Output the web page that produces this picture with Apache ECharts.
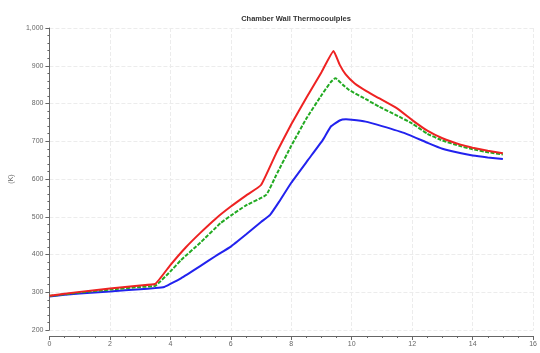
<!DOCTYPE html>
<html>
<head>
<meta charset="utf-8">
<script src="https://cdn.jsdelivr.net/npm/echarts@6/dist/echarts.min.js"></script>
<style>html,body{margin:0;padding:0;background:#fff}#c{width:540px;height:353px}</style>
</head>
<body>
<div id="c"></div>
<script>
const chartTitle = "Chamber Wall Thermocoulples";
const yAxisName = "(K)";
const redX   = [0, 1, 2, 3, 3.5, 4, 4.5, 5, 5.5, 6, 6.5, 7, 7.5, 8, 8.5, 9, 9.4, 9.6, 9.8, 10.1, 10.5, 10.9, 11.5, 12, 12.5, 13, 13.6, 14, 14.5, 15];
const redY   = [291, 301, 310, 318, 322, 372, 418, 458, 495, 527, 556, 584, 668, 745, 815, 883, 939, 903, 877, 853, 832, 814, 787, 756, 728, 708, 691, 683, 675, 668];
const greenX = [0, 1, 2, 3, 3.5, 4, 4.35, 5, 5.66, 6, 6.5, 7.17, 7.5, 8, 8.5, 9, 9.3, 9.46, 9.7, 9.91, 10.5, 10.9, 11.5, 12, 12.5, 13, 13.6, 14, 14.5, 15];
const greenY = [290, 299, 307, 314, 317, 355, 385, 432, 483, 503, 530, 558, 610, 688, 760, 822, 856, 867, 850, 836, 810, 792, 768, 747, 720, 702, 687, 679, 671, 665];
const blueX  = [0, 1, 2, 3, 3.5, 3.8, 4, 4.35, 5, 5.5, 6, 6.5, 7, 7.3, 7.6, 8, 8.55, 9.04, 9.31, 9.6, 9.81, 10, 10.46, 11, 11.77, 12.53, 13, 13.62, 14, 14.5, 15];
const blueY  = [289, 297, 302, 308, 311, 314, 322, 337, 370, 396, 421, 453, 486, 505, 540, 590, 650, 703, 739, 755, 758, 757, 752, 740, 721, 695, 680, 668, 662, 657, 653];

function pairs(xs, ys) { return xs.map((x, i) => [x, ys[i]]); }

const chart = echarts.init(document.getElementById('c'));
const axisCol = '#666';
const labelCol = '#666';
chart.setOption({
  animation: false,
  backgroundColor: '#fff',
  title: {
    text: chartTitle, left: 291, top: 10, textAlign: 'center',
    textStyle: { fontSize: 7.5, fontWeight: 'bold', color: '#333', fontFamily: 'Liberation Sans' }
  },
  grid: { left: 46, right: 4, top: 28, bottom: 23 },
  xAxis: {
    type: 'value', min: 0, max: 16, interval: 2, offset: 6,
    axisLine: { show: true, lineStyle: { color: axisCol, width: 1 } },
    axisTick: { show: true, length: 4, lineStyle: { color: axisCol } },
    minorTick: { show: true, splitNumber: 4, length: 2, lineStyle: { color: axisCol } },
    axisLabel: { fontSize: 7, color: labelCol, margin: 5, fontFamily: 'Liberation Sans' },
    splitLine: { show: true, lineStyle: { color: '#ececec', type: 'dashed', width: 1 } }
  },
  yAxis: {
    type: 'value', min: 200, max: 1000, interval: 100, offset: 1,
    name: yAxisName, nameLocation: 'middle', nameGap: 27, nameRotate: 90,
    nameTextStyle: { fontSize: 7, color: labelCol, fontFamily: 'Liberation Sans' },
    axisLine: { show: true, lineStyle: { color: axisCol, width: 1 } },
    axisTick: { show: true, length: 4, lineStyle: { color: axisCol } },
    minorTick: { show: true, splitNumber: 5, length: 2, lineStyle: { color: axisCol } },
    axisLabel: {
      fontSize: 7, color: labelCol, margin: 5, fontFamily: 'Liberation Sans',
      formatter: v => v >= 1000 ? (Math.floor(v / 1000) + ',' + String(v % 1000).padStart(3, '0')) : String(v)
    },
    splitLine: { show: true, lineStyle: { color: '#ececec', type: 'dashed', width: 1 } }
  },
  series: [
    { type: 'line', data: pairs(blueX, blueY), showSymbol: false, smooth: 0.12,
      lineStyle: { color: '#2222ee', width: 2 } },
    { type: 'line', data: pairs(greenX, greenY), showSymbol: false, smooth: 0.12,
      lineStyle: { color: '#22aa22', width: 2, type: [4, 1.5] } },
    { type: 'line', data: pairs(redX, redY), showSymbol: false, smooth: 0.12,
      lineStyle: { color: '#ee2222', width: 2 } }
  ]
});
</script>
</body>
</html>
